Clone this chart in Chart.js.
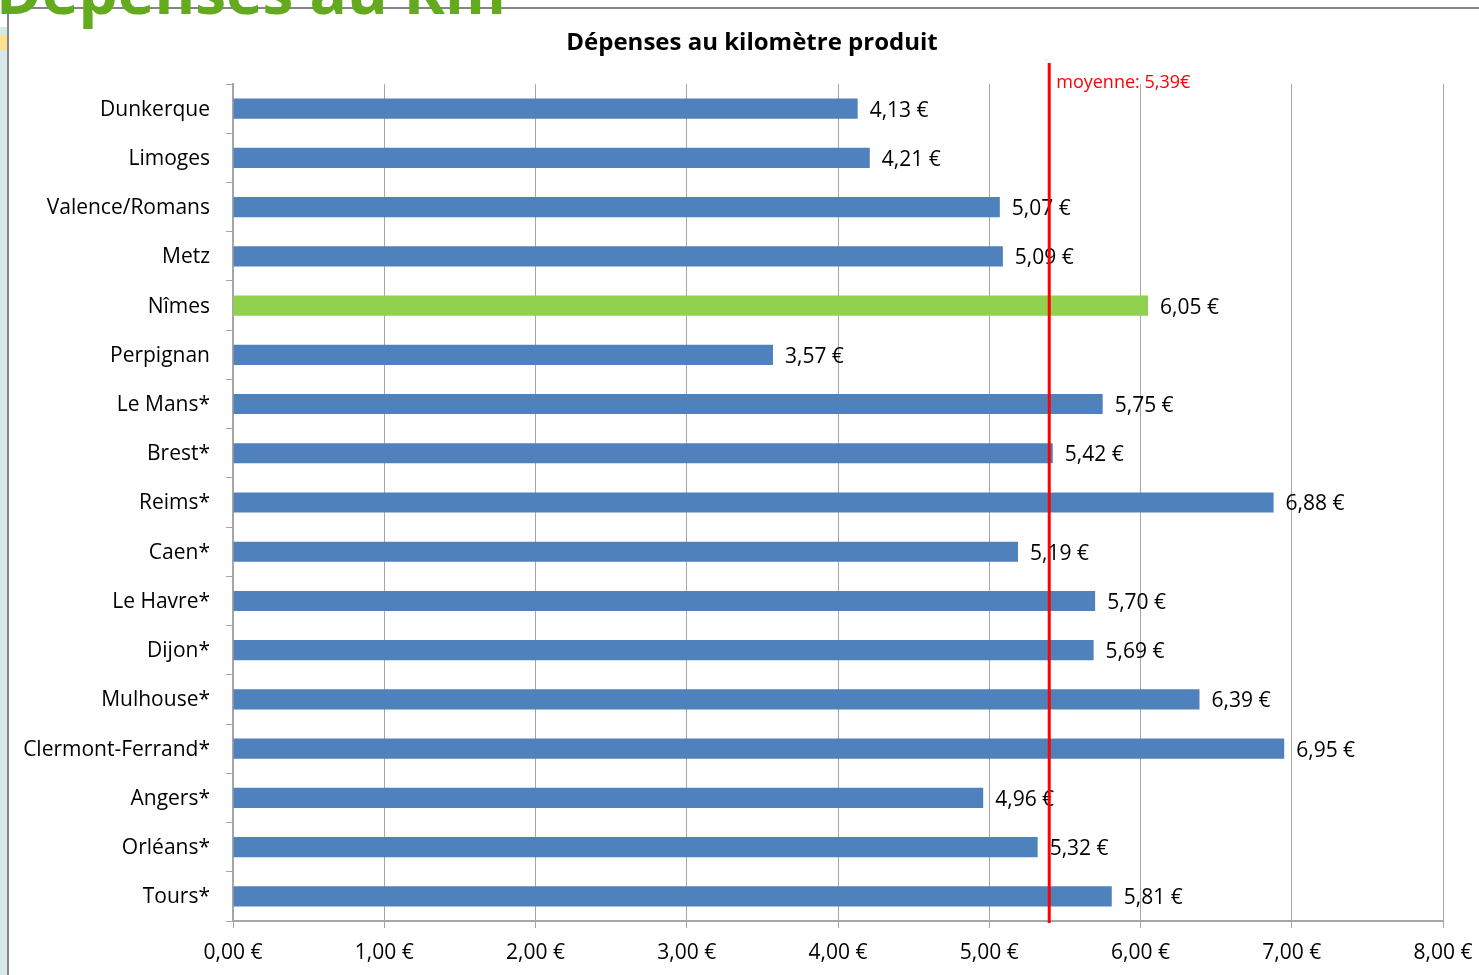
<!DOCTYPE html>
<html>
<head>
<meta charset="utf-8">
<script src="https://cdn.jsdelivr.net/npm/chart.js@4.4.1/dist/chart.umd.min.js"></script>
<style>
  html, body { margin: 0; padding: 0; background: #ffffff; overflow: hidden; }
  #wrap { position: relative; width: 1479px; height: 975px; overflow: hidden; }
  #heading { position: absolute; left: -4px; top: -52px; font-family: "Open Sans", sans-serif; font-weight: bold; font-size: 62px; color: #63aa1f; white-space: nowrap; }
  #frame { position: absolute; left: 7px; top: 7px; width: 1500px; height: 1000px; border-top: 2px solid #858585; border-left: 2px solid #858585; background: #ffffff; }
  #strip { position: absolute; left: 0; top: 27px; width: 7px; height: 960px; background: #d5e9eb; }
  #strip2 { position: absolute; left: 0; top: 35px; width: 7px; height: 15px; background: #fde38e; }
  canvas { position: absolute; left: 0; top: 0; }
</style>
</head>
<body>
<div id="wrap">
  <div id="strip"></div>
  <div id="strip2"></div>
  <div id="frame"></div>
  <div id="heading">Dépenses au Km</div>
  <canvas id="c" width="1479" height="975"></canvas>
</div>
<script>
const categories = ["Dunkerque", "Limoges", "Valence/Romans", "Metz", "Nîmes", "Perpignan", "Le Mans*", "Brest*", "Reims*", "Caen*", "Le Havre*", "Dijon*", "Mulhouse*", "Clermont-Ferrand*", "Angers*", "Orléans*", "Tours*"];
const values = [4.13, 4.21, 5.07, 5.09, 6.05, 3.57, 5.75, 5.42, 6.88, 5.19, 5.70, 5.69, 6.39, 6.95, 4.96, 5.32, 5.81];
const highlighted = "Nîmes";
const averageValue = 5.39;
const averageLabel = "moyenne: 5,39€";
const chartTitle = "Dépenses au kilomètre produit";
const xTickValues = [0, 1, 2, 3, 4, 5, 6, 7, 8];

const FONT = '"Open Sans", sans-serif';
const fmt = v => v.toFixed(2).replace('.', ',') + ' €';

const barColors = categories.map(c => c === highlighted ? '#92d050' : '#4f81bd');

const titlePlugin = {
  id: 'centeredTitle',
  afterDraw(chart) {
    const ctx = chart.ctx;
    ctx.save();
    ctx.font = 'bold 24px ' + FONT;
    ctx.fillStyle = '#000000';
    ctx.textAlign = 'center';
    ctx.textBaseline = 'middle';
    ctx.fillText(chartTitle, 752, 43);
    ctx.restore();
  }
};

const labelPlugin = {
  id: 'valueLabels',
  afterDatasetsDraw(chart) {
    const ctx = chart.ctx;
    const meta = chart.getDatasetMeta(0);
    ctx.save();
    ctx.font = '21px ' + FONT;
    ctx.fillStyle = '#000000';
    ctx.textBaseline = 'middle';
    ctx.textAlign = 'left';
    meta.data.forEach((bar, i) => {
      ctx.fillText(fmt(values[i]), bar.x + 12, bar.y + 2);
    });
    ctx.restore();
  }
};

const meanPlugin = {
  id: 'meanLine',
  afterDraw(chart) {
    const ctx = chart.ctx;
    const x = chart.scales.x.getPixelForValue(averageValue) + 1;
    const area = chart.chartArea;
    ctx.save();
    ctx.strokeStyle = '#ff0000';
    ctx.lineWidth = 3;
    ctx.beginPath();
    ctx.moveTo(x, area.top - 21);
    ctx.lineTo(x, area.bottom + 2);
    ctx.stroke();
    ctx.font = '18px ' + FONT;
    ctx.fillStyle = '#ff0000';
    ctx.textBaseline = 'middle';
    ctx.textAlign = 'left';
    ctx.fillText(averageLabel, x + 7, area.top - 1);
    ctx.restore();
  }
};

new Chart(document.getElementById('c'), {
  type: 'bar',
  data: {
    labels: categories,
    datasets: [{
      data: values,
      backgroundColor: barColors,
      borderWidth: 0,
      categoryPercentage: 1.0,
      barPercentage: 0.41
    }]
  },
  options: {
    indexAxis: 'y',
    responsive: false,
    animation: false,
    devicePixelRatio: 1,
    layout: { padding: { top: 84, right: 36, bottom: 0, left: 0 } },
    plugins: {
      legend: { display: false },
      tooltip: { enabled: false },
      title: { display: false }
    },
    scales: {
      x: {
        type: 'linear',
        min: 0,
        max: 8,
        afterBuildTicks(scale) { scale.ticks = xTickValues.map(v => ({ value: v })); },
        afterFit(scale) { scale.height = 54; scale.paddingLeft = 0; scale.paddingRight = 0; },
        ticks: {
          callback: v => fmt(v),
          color: '#000000',
          font: { family: FONT, size: 21 },
          padding: 12,
          maxRotation: 0
        },
        grid: { color: '#a6a6a6', lineWidth: 1, tickLength: 7, drawTicks: true },
        border: { display: true, color: '#a6a6a6', width: 2 }
      },
      y: {
        afterFit(scale) { scale.width = 233; },
        ticks: {
          color: '#000000',
          font: { family: FONT, size: 21 },
          padding: 16,
          labelOffset: 1,
          autoSkip: false
        },
        grid: { drawOnChartArea: false, drawTicks: true, tickLength: 7, color: '#a6a6a6', offset: true },
        border: { display: true, color: '#a6a6a6', width: 2 }
      }
    }
  },
  plugins: [labelPlugin, meanPlugin, titlePlugin]
});
</script>
</body>
</html>
